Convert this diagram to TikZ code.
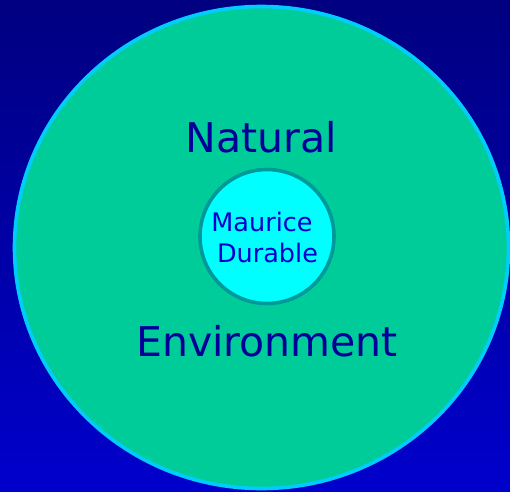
\documentclass[tikz,border=0pt]{standalone}
\usepackage{fontspec}
\setmainfont{DejaVu Sans}
\definecolor{bgtop}{HTML}{000080}
\definecolor{bgbot}{HTML}{0000CC}
\definecolor{fieldgreen}{HTML}{00CC99}
\definecolor{rimcyan}{HTML}{00CCFF}
\definecolor{corecyan}{HTML}{00FFFF}
\definecolor{coreteal}{HTML}{009999}
\definecolor{navytext}{HTML}{000099}
\definecolor{bluetext}{HTML}{0000CC}
\tikzset{
  bigword/.style={anchor=base, text=navytext, font=\fontsize{41}{41}\selectfont, inner sep=0pt},
  smallword/.style={anchor=base, text=bluetext, font=\fontsize{25.5}{25.5}\selectfont, inner sep=0pt},
}
\begin{document}
\begin{tikzpicture}[x=1pt,y=-1pt]
  % backdrop with vertical gradient
  \shade[top color=bgtop, bottom color=bgbot] (0,0) rectangle (510,491);
  \useasboundingbox (0,0) rectangle (510,491);
  % outer environment
  \draw[line width=3.6pt, draw=rimcyan, fill=fieldgreen] (261.5,247.5) ellipse [x radius=247, y radius=241];
  % inner core
  \node[circle, minimum size=134pt, inner sep=0pt, line width=3.6pt, draw=coreteal, fill=corecyan] (core) at (267,236.5) {};
  \node[bigword] (natural) at (261,152.7) {Natural};
  \node[bigword] (environment) at (267,356.7) {Environment};
  \node[smallword] (maurice) at (262,231) {Maurice};
  \node[smallword] (durable) at (267.5,262) {Durable};
\end{tikzpicture}
\end{document}
